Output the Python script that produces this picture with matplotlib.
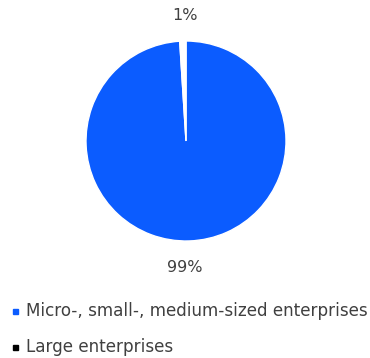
import matplotlib
matplotlib.use("Agg")
import matplotlib.pyplot as plt

categories = ["Micro-, small-, medium-sized enterprises", "Large enterprises"]
values = [99, 1]
labels = ["99%", "1%"]
legend_colors = ["#0b5cff", "#000000"]
slice_colors = ["#0b5cff", "#ffffff"]

plt.rcParams['font.family'] = ['DejaVu Sans']
W, H = 370, 358

fig = plt.figure(figsize=(W / 100, H / 100), dpi=100)
ax = fig.add_axes([86 / W, 1 - 241 / H, 200 / W, 200 / H])
wedges, _ = ax.pie(values, colors=slice_colors, startangle=90, counterclock=False,
                   wedgeprops=dict(edgecolor="white", linewidth=1.0))
ax.set_aspect("equal")
ax.set_xlim(-1, 1)
ax.set_ylim(-1, 1)
ax.axis("off")

# data labels
ax.text(-0.01, 1.26, labels[1], ha="center", va="center", fontsize=11.5, color="#404040")
ax.text(-0.01, -1.27, labels[0], ha="center", va="center", fontsize=11.5, color="#404040")

# legend
ys = [311, 347]
for cat, c, y in zip(categories, legend_colors, ys):
    fig.patches.append(plt.Rectangle((13 / W, 1 - (y + 2.5) / H), 5 / W, 5 / H,
                                     transform=fig.transFigure, color=c))
    fig.text(26 / W, 1 - y / H, cat, ha="left", va="center", fontsize=12.1,
             color="#404040")

fig.savefig("out.png", dpi=100)
